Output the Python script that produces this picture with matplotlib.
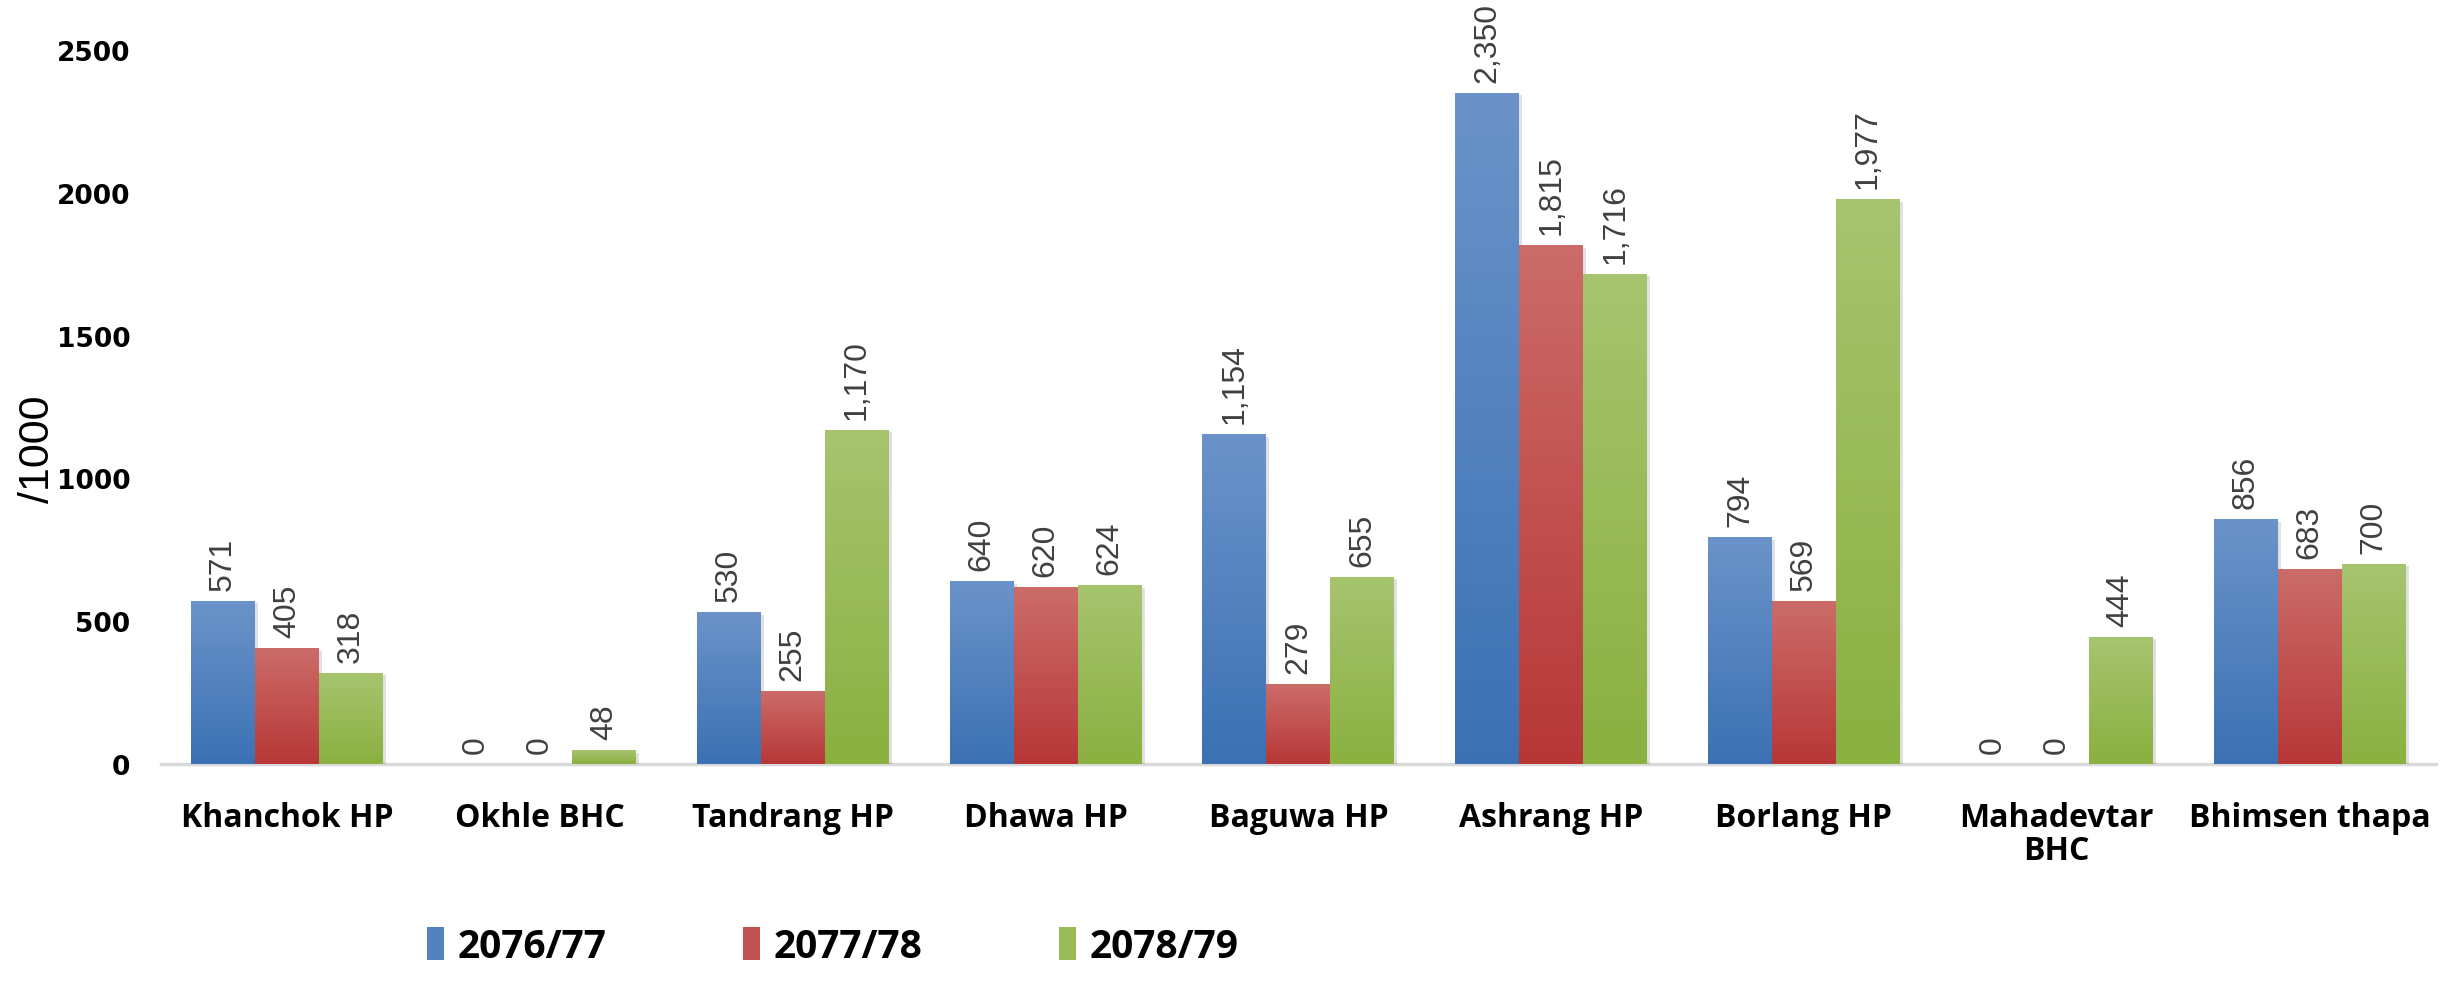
import numpy as np
import matplotlib.pyplot as plt
from matplotlib.colors import LinearSegmentedColormap
from matplotlib.patches import Rectangle

# data
categories = ["Khanchok HP", "Okhle BHC", "Tandrang HP", "Dhawa HP", "Baguwa HP",
              "Ashrang HP", "Borlang HP", "Mahadevtar\nBHC", "Bhimsen thapa"]
years = ["2076/77", "2077/78", "2078/79"]
v_2076 = [571, 0, 530, 640, 1154, 2350, 794, 0, 856]
v_2077 = [405, 0, 255, 620, 279, 1815, 569, 0, 683]
v_2078 = [318, 48, 1170, 624, 655, 1716, 1977, 444, 700]
series = [v_2076, v_2077, v_2078]

# gradient colours (top, bottom)
grads = [("#6b93c9", "#3b71b3"), ("#cb6c69", "#b73737"), ("#a7c46f", "#8ab040")]

fig = plt.figure(figsize=(24.47, 9.87), dpi=100)
ax = fig.add_axes([0.0657, 0.225, 0.9298, 0.723])

x = np.arange(len(categories))
w = 0.253
grad = np.linspace(0, 1, 256).reshape(-1, 1)

handles = []
for i, (vals, (top, bot)) in enumerate(zip(series, grads)):
    cmap = LinearSegmentedColormap.from_list("g%d" % i, [top, bot])
    bars = ax.bar(x + (i - 1) * w, vals, w, color="none", edgecolor="none", label=years[i])
    for b, v in zip(bars, vals):
        x0, y0 = b.get_x(), b.get_y()
        bw, bh = b.get_width(), b.get_height()
        if bh > 0:
            # soft shadow on the right
            ax.add_patch(Rectangle((x0 + 0.012, y0), bw, bh - 8, color="#000000",
                                   alpha=0.12, lw=0, zorder=1))
            ax.imshow(grad, cmap=cmap, aspect="auto", extent=(x0, x0 + bw, y0, y0 + bh),
                      zorder=2, interpolation="bicubic")
        ax.text(x0 + bw / 2, v + 40, f"{v:,}", rotation=90, ha="center", va="bottom",
                fontsize=23, color="#404040", family="Liberation Sans", zorder=3)
    handles.append(Rectangle((0, 0), 1, 1, facecolor=cmap(0.5), edgecolor="none"))

ax.set_xlim(-0.5, len(categories) - 0.5)
ax.set_ylim(0, 2500)
ax.set_yticks([0, 500, 1000, 1500, 2000, 2500])
ax.set_xticks(x)
ax.set_xticklabels(categories, fontsize=23, fontweight="bold", family="Open Sans",
                   linespacing=1.0)
for lab in ax.get_yticklabels():
    lab.set_fontsize(19)
    lab.set_fontweight("bold")
    lab.set_family("DejaVu Sans")
ax.tick_params(axis="both", length=0)
ax.tick_params(axis="x", pad=27)
ax.tick_params(axis="y", pad=22)

for s in ["top", "right", "left"]:
    ax.spines[s].set_visible(False)
ax.spines["bottom"].set_color("#d9d9d9")
ax.spines["bottom"].set_linewidth(2.5)
ax.spines["bottom"].set_zorder(0)

ax.set_ylabel("/1000", fontsize=31, family="Liberation Sans")
ax.yaxis.set_label_coords(-0.045, 0.442)

leg = fig.legend(handles, years, loc="center left", bbox_to_anchor=(0.16, 0.04),
                 ncol=3, frameon=False, handlelength=0.45, handleheight=0.95,
                 handletextpad=0.35, columnspacing=3.5,
                 prop={"family": "Open Sans", "weight": "bold", "size": 28})

plt.savefig("out.png", dpi=100)
